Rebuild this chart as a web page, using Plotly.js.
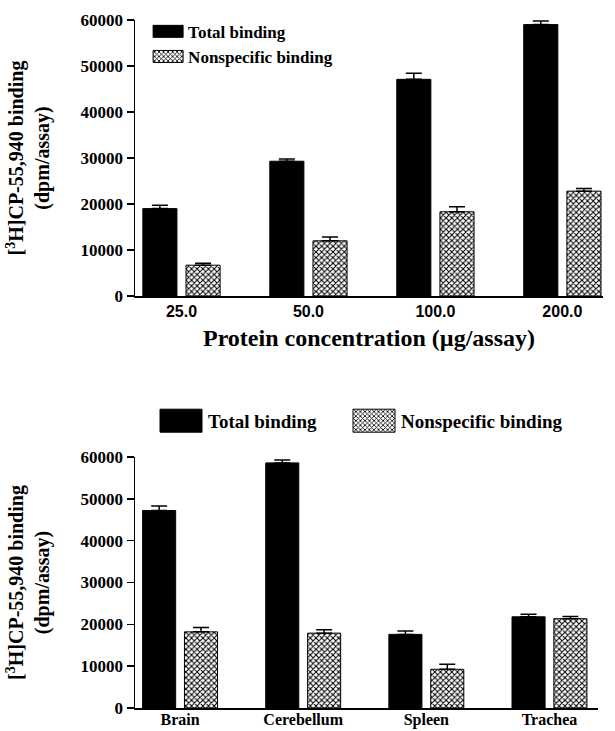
<!DOCTYPE html>
<html><head><meta charset="utf-8">
<script src="https://cdn.plot.ly/plotly-3.0.1.min.js"></script>
<style>html,body{margin:0;padding:0;background:#fff}</style>
</head><body><div id="chart" style="width:615px;height:731px"></div>
<script>
// ---- data ----
const proteinConc = ['25.0', '50.0', '100.0', '200.0'];
const totalProtein = [19000, 29300, 47100, 59000];
const totalProteinErr = [750, 500, 1300, 800];
const nonspecProtein = [6700, 12000, 18300, 22800];
const nonspecProteinErr = [450, 850, 1100, 600];

const tissues = ['Brain', 'Cerebellum', 'Spleen', 'Trachea'];
const totalTissue = [47200, 58600, 17600, 21800];
const totalTissueErr = [1100, 700, 800, 600];
const nonspecTissue = [18200, 17900, 9250, 21350];
const nonspecTissueErr = [1050, 800, 1200, 500];

const noErr = [0, 0, 0, 0];
const yTicks = [0, 10000, 20000, 30000, 40000, 50000, 60000];
const seriesNames = ['Total binding', 'Nonspecific binding'];

// ---- styles ----
const serif = 'Liberation Serif, Times New Roman, serif';
const sans = 'Liberation Sans, Arial, sans-serif';
const solidMarker = {color: 'black', line: {color: 'black', width: 1}};
const hatchMarker = {color: 'white', line: {color: 'black', width: 1},
  pattern: {shape: 'x', fgcolor: 'black', bgcolor: 'white', size: 4, solidity: 0.45}};
function err(arr) {
  return {type: 'data', symmetric: false, array: arr, arrayminus: noErr,
          color: 'black', thickness: 1.5, width: 8};
}

const traces = [
  {type: 'bar', name: seriesNames[0], x: proteinConc, y: totalProtein, error_y: err(totalProteinErr),
   marker: solidMarker, xaxis: 'x', yaxis: 'y', legend: 'legend'},
  {type: 'bar', name: seriesNames[1], x: proteinConc, y: nonspecProtein, error_y: err(nonspecProteinErr),
   marker: hatchMarker, xaxis: 'x', yaxis: 'y', legend: 'legend'},
  {type: 'bar', name: seriesNames[0], x: tissues, y: totalTissue, error_y: err(totalTissueErr),
   marker: solidMarker, xaxis: 'x2', yaxis: 'y2', legend: 'legend2'},
  {type: 'bar', name: seriesNames[1], x: tissues, y: nonspecTissue, error_y: err(nonspecTissueErr),
   marker: hatchMarker, xaxis: 'x2', yaxis: 'y2', legend: 'legend3'}
];

const yTitle = '[<sup>3</sup>H]CP-55,940 binding<br>(dpm/assay)';
function yAxis(domain, anchor) {
  return {domain: domain, anchor: anchor, range: [0, 60000], tickmode: 'array', tickvals: yTicks,
    tickformat: 'd', showline: true, linecolor: 'black', linewidth: 1.5, ticks: 'outside',
    ticklen: 7, tickwidth: 1.5, tickcolor: 'black', showgrid: false, zeroline: false,
    tickfont: {family: serif, size: 17, weight: 'bold', color: 'black'},
    title: {text: yTitle, font: {family: serif, size: 20, weight: 'bold', color: 'black'}, standoff: 25}};
}
function xAxis(domain, anchor, range, tickfont) {
  return {domain: domain, anchor: anchor, type: 'category', range: range, showline: true,
    linecolor: 'black', linewidth: 1.5, ticks: '', showgrid: false, zeroline: false,
    tickfont: tickfont};
}

const layout = {
  width: 615, height: 731,
  margin: {l: 135, r: 12, t: 20, b: 23},
  paper_bgcolor: 'white', plot_bgcolor: 'white',
  barmode: 'group', bargap: 0.32, bargroupgap: 0.21,
  showlegend: true,
  xaxis: Object.assign(xAxis([0, 1], 'y', [-0.366, 3.32],
      {family: sans, size: 16, weight: 'bold', color: 'black'}),
    {title: {text: 'Protein concentration (µg/assay)',
      font: {family: serif, size: 24, weight: 'bold', color: 'black'}, standoff: 10}}),
  yaxis: yAxis([0.5988, 1], 'x'),
  xaxis2: Object.assign(xAxis([0, 0.9893], 'y2', [-0.366, 3.394],
      {family: serif, size: 16, weight: 'bold', color: 'black'}), {ticklabelstandoff: -4}),
  yaxis2: yAxis([0, 0.3648], 'x2'),
  legend: {x: 0.028, y: 1.009, xanchor: 'left', yanchor: 'top', bgcolor: 'rgba(0,0,0,0)',
    font: {family: serif, size: 17, weight: 'bold', color: 'black'}, itemwidth: 30,
    tracegroupgap: 0, traceorder: 'normal'},
  legend2: {x: 0.0406, y: 0.445, xanchor: 'left', yanchor: 'top', bgcolor: 'rgba(0,0,0,0)',
    font: {family: serif, size: 19, weight: 'bold', color: 'black'}, itemwidth: 44},
  legend3: {x: 0.453, y: 0.445, xanchor: 'left', yanchor: 'top', bgcolor: 'rgba(0,0,0,0)',
    font: {family: serif, size: 19, weight: 'bold', color: 'black'}, itemwidth: 44}
};

function enlargeSwatches(gd) {
  const groups = gd.querySelectorAll('g.legendpoints');
  groups.forEach(function (g) {
    const inTop = !!g.closest('g.legend');
    const d = inTop ? 'M15,6H-15V-6H15Z' : 'M21,11.5H-21V-11.5H21Z';
    g.querySelectorAll('path').forEach(function (p) { p.setAttribute('d', d); });
  });
}

Plotly.newPlot('chart', traces, layout, {staticPlot: true, displayModeBar: false}).then(function (gd) {
  enlargeSwatches(gd);
  gd.on('plotly_afterplot', function () { enlargeSwatches(gd); });
  setTimeout(function () { enlargeSwatches(gd); }, 50);
});
</script>
</body></html>
